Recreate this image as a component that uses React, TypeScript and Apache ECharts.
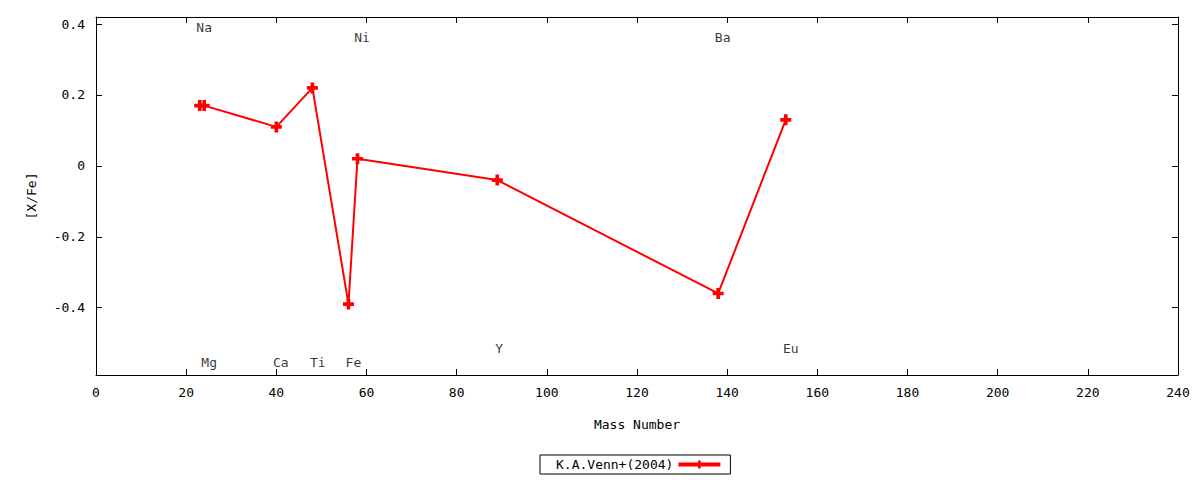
import React, { useEffect, useRef } from "react";
import * as echarts from "echarts";

const elements = ["Na", "Mg", "Ca", "Ti", "Fe", "Ni", "Y", "Ba", "Eu"];
const massNumbers = [23, 24, 40, 48, 56, 58, 89, 138, 153];
const abundances = [0.17, 0.17, 0.11, 0.22, -0.39, 0.02, -0.04, -0.36, 0.13];
const labelX = [24, 25.1, 41, 49.2, 57.1, 59, 89.4, 139, 154.1];
const labelY = [0.39, -0.555, -0.555, -0.555, -0.555, 0.362, -0.516, 0.362, -0.516];
const yTicks = [-0.4, -0.2, 0, 0.2, 0.4];
const seriesName = "K.A.Venn+(2004)";

const FONT = "DejaVu Sans Mono";
const PLUS = "path://M3,0H6V3H9V6H6V9H3V6H0V3H3Z";

export default function App() {
  const ref = useRef<HTMLDivElement>(null);
  useEffect(() => {
    if (!ref.current) return;
    const chart = echarts.init(ref.current, null, { renderer: "svg" });
    const axisLine = { show: true, onZero: false, lineStyle: { color: "#000", width: 1 } };
    const fmtY = (v: number) => String(+Number(v).toFixed(1));
    chart.setOption({
      animation: false,
      backgroundColor: "#fff",
      textStyle: { fontFamily: FONT, fontSize: 13, color: "#000" },
      grid: { left: 96, right: 22, top: 17, bottom: 105, containLabel: false },
      legend: {
        data: [seriesName],
        left: 540,
        top: 455,
        align: "right",
        itemWidth: 42,
        itemHeight: 10,
        padding: [3, 8, 3, 16],
        borderColor: "#000",
        borderWidth: 1,
        borderRadius: 0,
        lineStyle: { width: 4 },
        textStyle: { fontFamily: FONT, fontSize: 13, color: "#000" },
      },
      xAxis: [
        {
          type: "value",
          min: 0,
          max: 240,
          interval: 20,
          name: "Mass Number",
          nameLocation: "middle",
          nameGap: 43,
          nameTextStyle: { fontFamily: FONT, fontSize: 13, color: "#000" },
          axisLine,
          axisTick: { show: true, inside: true, length: 6, lineStyle: { color: "#000" } },
          axisLabel: { margin: 11, fontFamily: FONT, fontSize: 13, color: "#000" },
          splitLine: { show: false },
        },
        {
          type: "value",
          position: "top",
          min: 0,
          max: 240,
          interval: 20,
          axisLine,
          axisTick: { show: true, inside: true, length: 6, lineStyle: { color: "#000" } },
          axisLabel: { show: false },
          splitLine: { show: false },
        },
      ],
      yAxis: [
        {
          type: "value",
          min: -0.59,
          max: 0.42,
          name: "[X/Fe]",
          nameLocation: "middle",
          nameGap: 58,
          nameRotate: 90,
          nameTextStyle: { fontFamily: FONT, fontSize: 13, color: "#000" },
          axisLine,
          axisTick: { show: true, inside: true, length: 6, customValues: yTicks, lineStyle: { color: "#000" } },
          axisLabel: { margin: 11, customValues: yTicks, formatter: fmtY, fontFamily: FONT, fontSize: 13, color: "#000" },
          splitLine: { show: false },
        },
        {
          type: "value",
          position: "right",
          min: -0.59,
          max: 0.42,
          axisLine,
          axisTick: { show: true, inside: true, length: 6, customValues: yTicks, lineStyle: { color: "#000" } },
          axisLabel: { show: false, customValues: yTicks },
          splitLine: { show: false },
        },
      ],
      series: [
        {
          name: seriesName,
          type: "line",
          xAxisIndex: 0,
          yAxisIndex: 0,
          data: massNumbers.map((m, i) => [m, abundances[i]]),
          symbol: PLUS,
          symbolSize: 11,
          showAllSymbol: true,
          itemStyle: { color: "#ff0000" },
          lineStyle: { color: "#ff0000", width: 2 },
        },
        {
          name: "labels",
          type: "scatter",
          xAxisIndex: 0,
          yAxisIndex: 0,
          silent: true,
          symbolSize: 0,
          data: elements.map((e, i) => [labelX[i], labelY[i], e]),
          label: {
            show: true,
            position: "inside",
            formatter: (p: any) => p.value[2],
            fontFamily: FONT,
            fontSize: 13,
            color: "#000",
          },
        },
      ],
    });
    return () => chart.dispose();
  }, []);
  return (
    <div
      ref={ref}
      style={{ position: "fixed", left: 0, top: 0, width: 1200, height: 480, background: "#fff" }}
    />
  );
}
